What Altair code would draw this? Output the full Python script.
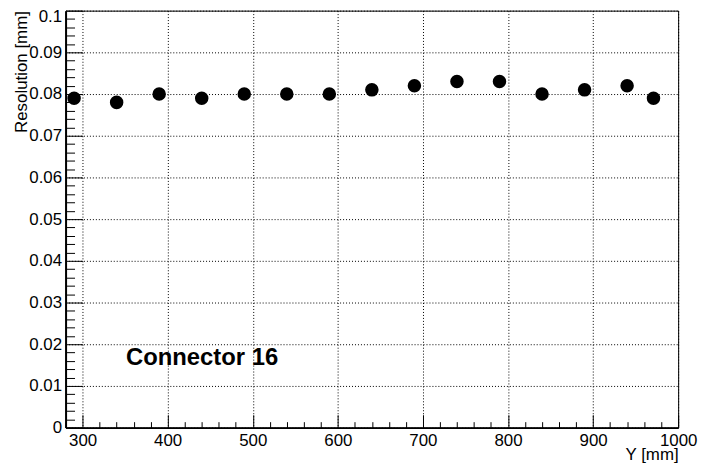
import altair as alt
import pandas as pd

# ---- data ----
y_mm = [290, 340, 390, 440, 490, 540, 590, 640, 690, 740, 790, 840, 890, 940, 971]
resolution = [0.079, 0.078, 0.080, 0.079, 0.080, 0.080, 0.080, 0.081,
              0.082, 0.083, 0.083, 0.080, 0.081, 0.082, 0.079]

x_major = [300, 400, 500, 600, 700, 800, 900, 1000]
x_minor = list(range(280, 1001, 20))
y_major = [0, 0.01, 0.02, 0.03, 0.04, 0.05, 0.06, 0.07, 0.08, 0.09, 0.1]
y_minor = [round(i * 0.002, 3) for i in range(51)]

label_text = ["Connector 16"]
label_x = [351]
label_y = [0.0151]

x_domain = [280, 1000]
y_domain = [0, 0.1]

W, H = 617, 420
FONT = "Liberation Sans"

df = pd.DataFrame({"y_mm": y_mm, "res": resolution})
df_label = pd.DataFrame({"t": label_text, "x": label_x, "y": label_y})

xscale = alt.Scale(domain=x_domain, nice=False, zero=False)
yscale = alt.Scale(domain=y_domain, nice=False, zero=False)

# inward major/minor ticks (axes moved onto the opposite side with negative offset)
tick_layer = alt.Chart(df).mark_circle(opacity=0).encode(
    x=alt.X("y_mm:Q", scale=xscale, axis=alt.Axis(
        orient="top", offset=-H, values=x_minor, labels=False, domain=False,
        grid=False, title=None, tickColor="black", tickWidth=1,
        tickSize={"condition": {"test": "datum.value % 100 == 0", "value": 13}, "value": 6},
    )),
    y=alt.Y("res:Q", scale=yscale, axis=alt.Axis(
        orient="right", offset=-W, values=y_minor, labels=False, domain=False,
        grid=False, title=None, tickColor="black", tickWidth=1,
        tickSize={"condition": {"test": "round(datum.value * 1000) % 10 == 0", "value": 17}, "value": 9},
    )),
)

points = alt.Chart(df).mark_circle(size=185, color="black", opacity=1).encode(
    x=alt.X("y_mm:Q", scale=xscale, axis=alt.Axis(
        orient="bottom", values=x_major, format="d", labelFlush=False, labelOverlap=False,
        grid=True, gridColor="black", gridDash=[1, 2], gridWidth=1, gridOpacity=1,
        ticks=False, domain=True, domainColor="black", domainWidth=2,
        labelFont=FONT, labelFontSize=17, labelColor="black", labelPadding=5,
        title="Y [mm]", titleFont=FONT, titleFontSize=17, titleFontWeight="normal",
        titleColor="black", titleX=W, titleY=27, titleAlign="right", titleBaseline="middle",
    )),
    y=alt.Y("res:Q", scale=yscale, axis=alt.Axis(
        orient="left", values=y_major, labelFlush=False, labelOverlap=False,
        labelExpr="datum.value == 0 ? '0' : format(datum.value, '.2~f')",
        grid=True, gridColor="black", gridDash=[1, 2], gridWidth=1, gridOpacity=1,
        ticks=False, domain=True, domainColor="black", domainWidth=2,
        labelFont=FONT, labelFontSize=17, labelColor="black", labelPadding=4,
        labelOffset={"condition": {"test": "datum.value > 0.095", "value": 6}, "value": 0},
        title="Resolution [mm]", titleFont=FONT, titleFontSize=17, titleFontWeight="normal",
        titleColor="black", titleAngle=270, titleX=-44, titleY=0,
        titleAlign="right", titleBaseline="middle",
    )),
)

label = alt.Chart(df_label).mark_text(
    font=FONT, fontSize=24, fontWeight="bold", color="black",
    align="left", baseline="alphabetic",
).encode(
    x=alt.X("x:Q", scale=xscale, axis=None),
    y=alt.Y("y:Q", scale=yscale, axis=None),
    text="t:N",
)

chart = alt.layer(tick_layer, points, label).resolve_axis(
    x="independent", y="independent"
).properties(
    width=W, height=H,
    autosize=alt.AutoSizeParams(type="none"),
    padding={"left": 58, "top": 1, "right": 22, "bottom": 38},
    background="white",
).configure_view(stroke="black", strokeWidth=1)

chart.save("out.html", embed_options={"renderer": "svg", "actions": False})
